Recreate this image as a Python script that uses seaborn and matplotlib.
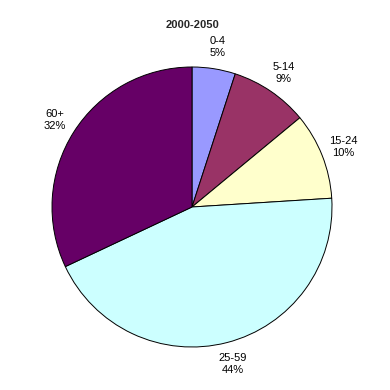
import matplotlib
matplotlib.use("Agg")
import matplotlib.pyplot as plt
import seaborn as sns

title = "2000-2050"
categories = ["0-4", "5-14", "15-24", "25-59", "60+"]
shares = [5, 9, 10, 44, 32]
colors = ["#9999FF", "#993366", "#FFFFCC", "#CCFFFF", "#660066"]

sns.set_theme(style="white")
plt.rcParams["font.family"] = ["Liberation Sans", "DejaVu Sans"]

palette = sns.color_palette(colors)
fig = plt.figure(figsize=(3.9, 3.9), dpi=100)
fig.patch.set_facecolor("white")
cx, cy, r = 192 / 390, 1 - 207 / 390, 140 / 390
ax = fig.add_axes([cx - r, cy - r, 2 * r, 2 * r])

labels = [f"{c}\n{v}%" for c, v in zip(categories, shares)]
wedges, texts = ax.pie(
    shares,
    labels=labels,
    colors=palette,
    startangle=90,
    counterclock=False,
    labeldistance=1.16,
    wedgeprops=dict(edgecolor="black", linewidth=0.7),
    textprops=dict(fontsize=8, color="black"),
)
for t in texts:
    t.set_horizontalalignment("center")
    t.set_verticalalignment("center")
    t.set_multialignment("center")
    t.set_linespacing(1.25)
ax.set_xlim(-1, 1)
ax.set_ylim(-1, 1)
ax.set_aspect("equal")
ax.axis("off")

fig.text(cx, 1 - 25 / 390, title, ha="center", va="center",
         fontsize=8, fontweight="bold")

fig.savefig("out.png", dpi=100, facecolor="white")
